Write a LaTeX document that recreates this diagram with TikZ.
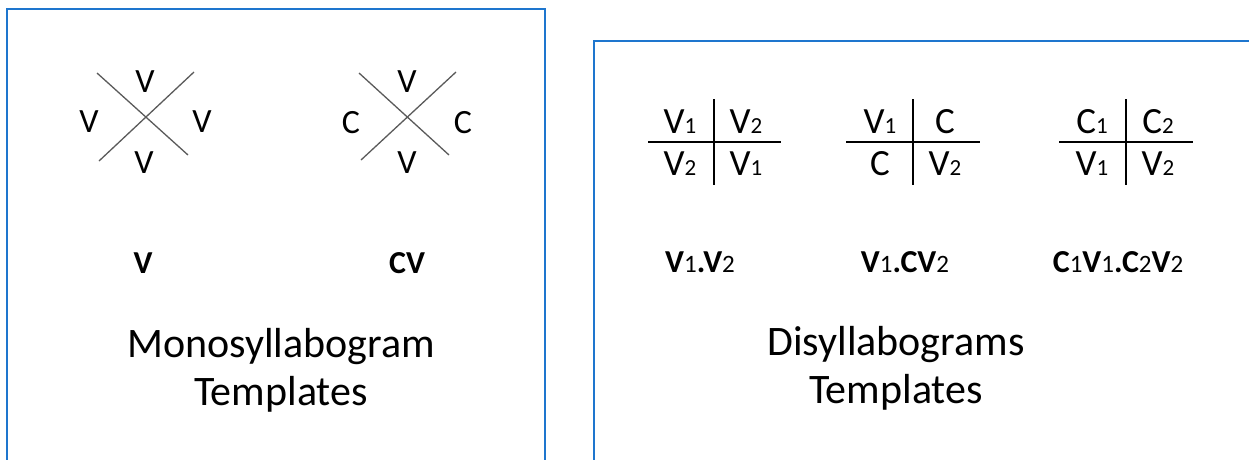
\documentclass[tikz,border=0pt]{standalone}
\usepackage{fontspec}
\setmainfont{Carlito}
\newcommand\tdig[1]{{\fontsize{23}{23}\selectfont #1}}
\newcommand\bdig[1]{{\fontsize{25}{25}\selectfont\mdseries #1}}
\definecolor{boxblue}{RGB}{30,118,206}
\definecolor{xgray}{RGB}{90,90,90}
\begin{document}
\begin{tikzpicture}[x=1pt,y=-1pt,
  xl/.style={font=\fontsize{34}{34}\selectfont, inner sep=0pt},
  tl/.style={font=\fontsize{37}{37}\selectfont, inner sep=0pt},
  lb/.style={font=\fontsize{32}{32}\selectfont\bfseries, inner sep=0pt},
  tt/.style={font=\fontsize{42}{48}\selectfont, align=center, inner sep=0pt},
  xline/.style={draw=xgray, line width=1.3pt},
  tline/.style={draw=black, line width=1.5pt},
  frame/.style={draw=boxblue, line width=2pt}]
\useasboundingbox (0,0) rectangle (1249,459);
\clip (0,0) rectangle (1249,459);
% frames
\coordinate (fa1) at (7,470); \coordinate (fa2) at (7,9);
\coordinate (fa3) at (545,9); \coordinate (fa4) at (545,470);
\draw[frame] (fa1) -- (fa2) -- (fa3) -- (fa4);
\coordinate (fb1) at (594,470); \coordinate (fb2) at (594,41);
\coordinate (fb3) at (1262,41);
\draw[frame] (fb1) -- (fb2) -- (fb3);
% first X
\coordinate (a1) at (97,73); \coordinate (a2) at (188,155);
\coordinate (a3) at (194,72); \coordinate (a4) at (99,161);
\draw[xline] (a1) -- (a2);
\draw[xline] (a3) -- (a4);
\node[xl] (at) at (145,82) {V};
\node[xl] (ab) at (144,163) {V};
\node[xl] (al) at (89,122) {V};
\node[xl] (ar) at (202,122) {V};
% second X
\coordinate (b1) at (359,73); \coordinate (b2) at (449,155);
\coordinate (b3) at (456,72); \coordinate (b4) at (361,160);
\draw[xline] (b1) -- (b2);
\draw[xline] (b3) -- (b4);
\node[xl] (bt) at (407,82) {V};
\node[xl] (bb) at (407,163) {V};
\node[xl] (bl) at (351,123) {C};
\node[xl] (br) at (463,123) {C};
% labels
\node[lb] (lv) at (143,263) {V};
\node[lb] (lcv) at (407,263) {CV};
\node[tt] (mono) at (281,370) {Monosyllabogram\\Templates};
% table 1
\coordinate (p1) at (648,142); \coordinate (p2) at (781,142);
\coordinate (p3) at (714,99); \coordinate (p4) at (714,185);
\draw[tline] (p1) -- (p2);
\draw[tline] (p3) -- (p4);
\node[tl] (p11) at (680,122) {V\tdig{1}};
\node[tl] (p12) at (746,122) {V\tdig{2}};
\node[tl] (p21) at (680,164) {V\tdig{2}};
\node[tl] (p22) at (746,164) {V\tdig{1}};
% table 2
\coordinate (q1) at (846,142); \coordinate (q2) at (980,142);
\coordinate (q3) at (913,99); \coordinate (q4) at (913,185);
\draw[tline] (q1) -- (q2);
\draw[tline] (q3) -- (q4);
\node[tl] (q11) at (880,122) {V\tdig{1}};
\node[tl] (q12) at (945,122) {C};
\node[tl] (q21) at (880,164) {C};
\node[tl] (q22) at (945,164) {V\tdig{2}};
% table 3
\coordinate (r1) at (1059,142); \coordinate (r2) at (1193,142);
\coordinate (r3) at (1126,99); \coordinate (r4) at (1126,185);
\draw[tline] (r1) -- (r2);
\draw[tline] (r3) -- (r4);
\node[tl] (r11) at (1092,122) {C\tdig{1}};
\node[tl] (r12) at (1158,122) {C\tdig{2}};
\node[tl] (r21) at (1092,164) {V\tdig{1}};
\node[tl] (r22) at (1158,164) {V\tdig{2}};
% labels
\node[lb] (l1) at (700,262) {V\bdig{1}.V\bdig{2}};
\node[lb] (l2) at (905,262) {V\bdig{1}.CV\bdig{2}};
\node[lb] (l3) at (1118,262) {C\bdig{1}V\bdig{1}.C\bdig{2}V\bdig{2}};
\node[tt] (di) at (896,368) {Disyllabograms\\Templates};
\end{tikzpicture}
\end{document}
